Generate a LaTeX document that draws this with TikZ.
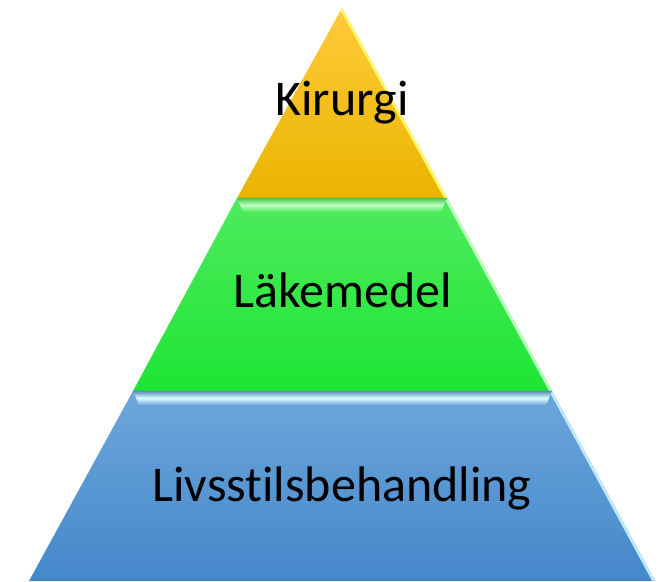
\documentclass[tikz,border=0pt]{standalone}
\usepackage{fontspec}
\setmainfont{Carlito}[Ligatures=NoCommon]
\usetikzlibrary{calc}

\begin{document}
\begin{tikzpicture}[
      x=1pt, y=1pt,
      niva/.style={font=\fontsize{50}{60}\selectfont, anchor=base, text=black, inner sep=0pt},
      gulniva/.style={top color=gulljus, bottom color=gulmork},
      gronniva/.style={top color=gronljus, bottom color=gronmork},
      blaniva/.style={top color=blaljus, bottom color=blamork},
      kant/.style={line width=5pt}
  ]
      \definecolor{gulljus}{HTML}{FFCB3A}
      \definecolor{gulmork}{HTML}{EAB400}
      \definecolor{gronljus}{HTML}{4FEB5E}
      \definecolor{gronmork}{HTML}{1DE534}
      \definecolor{blaljus}{HTML}{6DA6DC}
      \definecolor{blamork}{HTML}{4488CA}

      \useasboundingbox (0,0) rectangle (669,581);

      % Hörn i pyramiden
      \coordinate (topp) at (342,573);
      \coordinate (a1) at (237,383);
      \coordinate (a2) at (447,383);
      \coordinate (b1) at (133,190);
      \coordinate (b2) at (552,190);
      \coordinate (c1) at (29,0);
      \coordinate (c2) at (655,0);

      % Nivåerna
      \shade[gulniva] (topp) -- (a2) -- (a1) -- cycle;
      \shade[gronniva] (a1) -- (a2) -- (b2) -- (b1) -- cycle;
      \shade[blaniva] (b1) -- (b2) -- (c2) -- (c1) -- cycle;

      % Ljusa kanter
      \begin{scope}
          \clip (topp) -- (a2) -- (a1) -- cycle;
          \draw[kant, yellow!60!white] (topp) -- (a2);
      \end{scope}
      \begin{scope}
          \clip (a1) -- (a2) -- (b2) -- (b1) -- cycle;
          \draw[kant, green!25!white] (a2) -- (b2);
          \shade[top color=gronljus!85!black, bottom color=gronljus, middle color=green!25!white]
              (a1) -- (a2) -- ($(a2)+(-6,-14)$) -- ($(a1)+(6,-14)$) -- cycle;
      \end{scope}
      \begin{scope}
          \clip (b1) -- (b2) -- (c2) -- (c1) -- cycle;
          \draw[kant, cyan!25!white] (b2) -- (c2);
          \shade[top color=blaljus!85!black, bottom color=blaljus, middle color=cyan!15!white]
              (b1) -- (b2) -- ($(b2)+(-6,-14)$) -- ($(b1)+(6,-14)$) -- cycle;
      \end{scope}

      % Texter
      \node[niva] (kir) at (342,465) {Kirurgi};
      \node[niva] (lak) at (343,273) {Läkemedel};
      \node[niva] (liv) at (342,79) {Livsstilsbehandling};

  \end{tikzpicture}
\end{document}
